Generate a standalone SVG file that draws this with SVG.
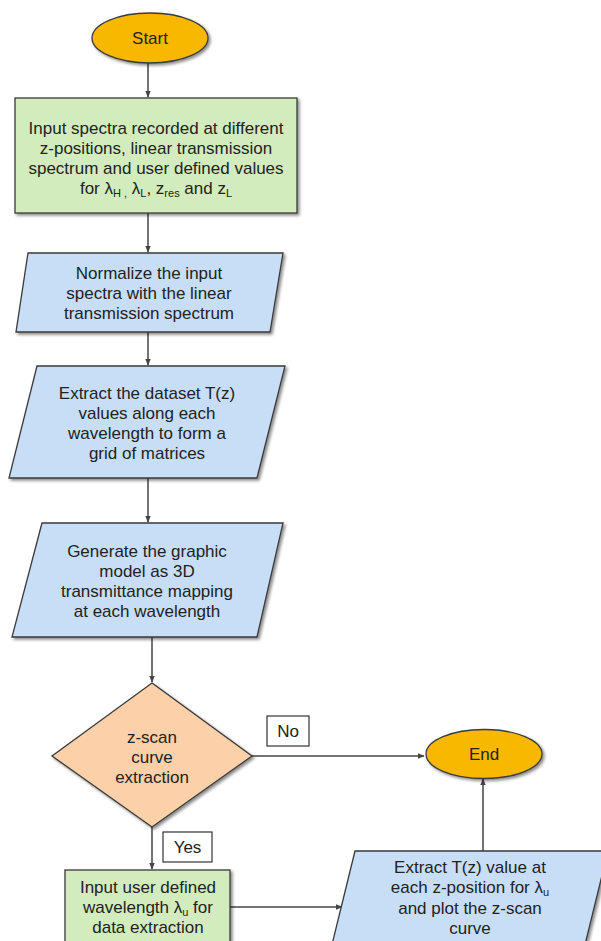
<svg xmlns="http://www.w3.org/2000/svg" width="601" height="941" viewBox="0 0 601 941">
<style>
  text { font-family: "Liberation Sans", Arial, sans-serif; font-size: 17px; fill: #222; text-anchor: middle; }
  .shape { stroke: #3a3a3a; stroke-width: 1.3; filter: url(#sh); }
  .term { fill: #f9b800; }
  .green { fill: #d2ecbd; }
  .blue { fill: #c8def7; }
  .dec { fill: #fcd0a8; }
  .lbl { fill: #fff; stroke: #333; stroke-width: 1.2; }
  .conn { stroke: #444; stroke-width: 1.5; fill: none; marker-end: url(#ah); }
  .sub { font-size: 11px; }
</style>
<defs>
  <filter id="sh" x="-10%" y="-10%" width="130%" height="130%">
    <feDropShadow dx="2" dy="2" stdDeviation="1.6" flood-color="#000" flood-opacity="0.45"/>
  </filter>
  <marker id="ah" viewBox="0 0 10 10" refX="9" refY="5" markerWidth="7" markerHeight="7" orient="auto" markerUnits="userSpaceOnUse">
    <path d="M0,1 L10,5 L0,9 z" fill="#444"/>
  </marker>
</defs>
<rect width="601" height="941" fill="#fff"/>

<g id="connectors">
  <line class="conn" x1="148" y1="63" x2="148" y2="97"/>
  <line class="conn" x1="148" y1="213" x2="148" y2="252"/>
  <line class="conn" x1="148" y1="332" x2="148" y2="365"/>
  <line class="conn" x1="148" y1="478" x2="148" y2="522"/>
  <line class="conn" x1="152" y1="637" x2="152" y2="682"/>
  <line class="conn" x1="252" y1="756" x2="424" y2="756"/>
  <line class="conn" x1="152" y1="827" x2="152" y2="869"/>
  <line class="conn" x1="230" y1="907" x2="342" y2="907"/>
  <line class="conn" x1="483" y1="851" x2="483" y2="779"/>
</g>

<g id="start">
  <ellipse class="shape term" cx="150" cy="38" rx="58" ry="25"/>
  <text x="150" y="44">Start</text>
</g>

<g id="input">
  <rect class="shape green" x="15" y="98" width="282" height="115"/>
  <text x="156" y="134">Input spectra recorded at different</text>
  <text x="156" y="154">z-positions, linear transmission</text>
  <text x="156" y="174">spectrum and user defined values</text>
  <text x="156" y="194">for λ<tspan class="sub" dy="3">H ,</tspan><tspan dy="-3"> λ</tspan><tspan class="sub" dy="3">L</tspan><tspan dy="-3">, z</tspan><tspan class="sub" dy="3">res</tspan><tspan dy="-3">  and z</tspan><tspan class="sub" dy="3">L</tspan></text>
</g>

<g id="normalize">
  <polygon class="shape blue" points="28,253 283,253 270,332 16,332"/>
  <text x="149" y="279">Normalize the input</text>
  <text x="149" y="299">spectra with the linear</text>
  <text x="149" y="319">transmission spectrum</text>
</g>

<g id="extract-dataset">
  <polygon class="shape blue" points="37,366 285,366 257,478 9,478"/>
  <text x="147" y="399">Extract the dataset T(z)</text>
  <text x="147" y="419">values along each</text>
  <text x="147" y="439">wavelength to form a</text>
  <text x="147" y="459">grid of matrices</text>
</g>

<g id="generate">
  <polygon class="shape blue" points="42,523 283,523 257,637 12,637"/>
  <text x="147" y="557">Generate the graphic</text>
  <text x="147" y="577">model as 3D</text>
  <text x="147" y="597">transmittance mapping</text>
  <text x="147" y="617">at each wavelength</text>
</g>

<g id="decision">
  <polygon class="shape dec" points="152,683 252,756 152,827 52,756"/>
  <text x="152" y="743">z-scan</text>
  <text x="152" y="763">curve</text>
  <text x="152" y="783">extraction</text>
</g>

<g id="label-no">
  <rect class="lbl" x="267" y="716" width="42" height="30"/>
  <text x="288" y="737">No</text>
</g>

<g id="label-yes">
  <rect class="lbl" x="163" y="832" width="49" height="30"/>
  <text x="187.5" y="853">Yes</text>
</g>

<g id="end">
  <ellipse class="shape term" cx="484" cy="754" rx="58" ry="24.5"/>
  <text x="484" y="760">End</text>
</g>

<g id="input-wavelength">
  <rect class="shape green" x="65" y="870" width="165" height="90"/>
  <text x="148" y="893">Input user defined</text>
  <text x="148" y="913">wavelength λ<tspan class="sub" dy="3">u</tspan><tspan dy="-3"> for</tspan></text>
  <text x="148" y="933">data extraction</text>
</g>

<g id="extract-tz">
  <polygon class="shape blue" points="355,851 608,851 580,965 327,965"/>
  <text x="470" y="873">Extract T(z) value at</text>
  <text x="470" y="893">each z-position for λ<tspan class="sub" dy="3">u</tspan></text>
  <text x="470" y="914">and plot the z-scan</text>
  <text x="470" y="934">curve</text>
</g>
</svg>
